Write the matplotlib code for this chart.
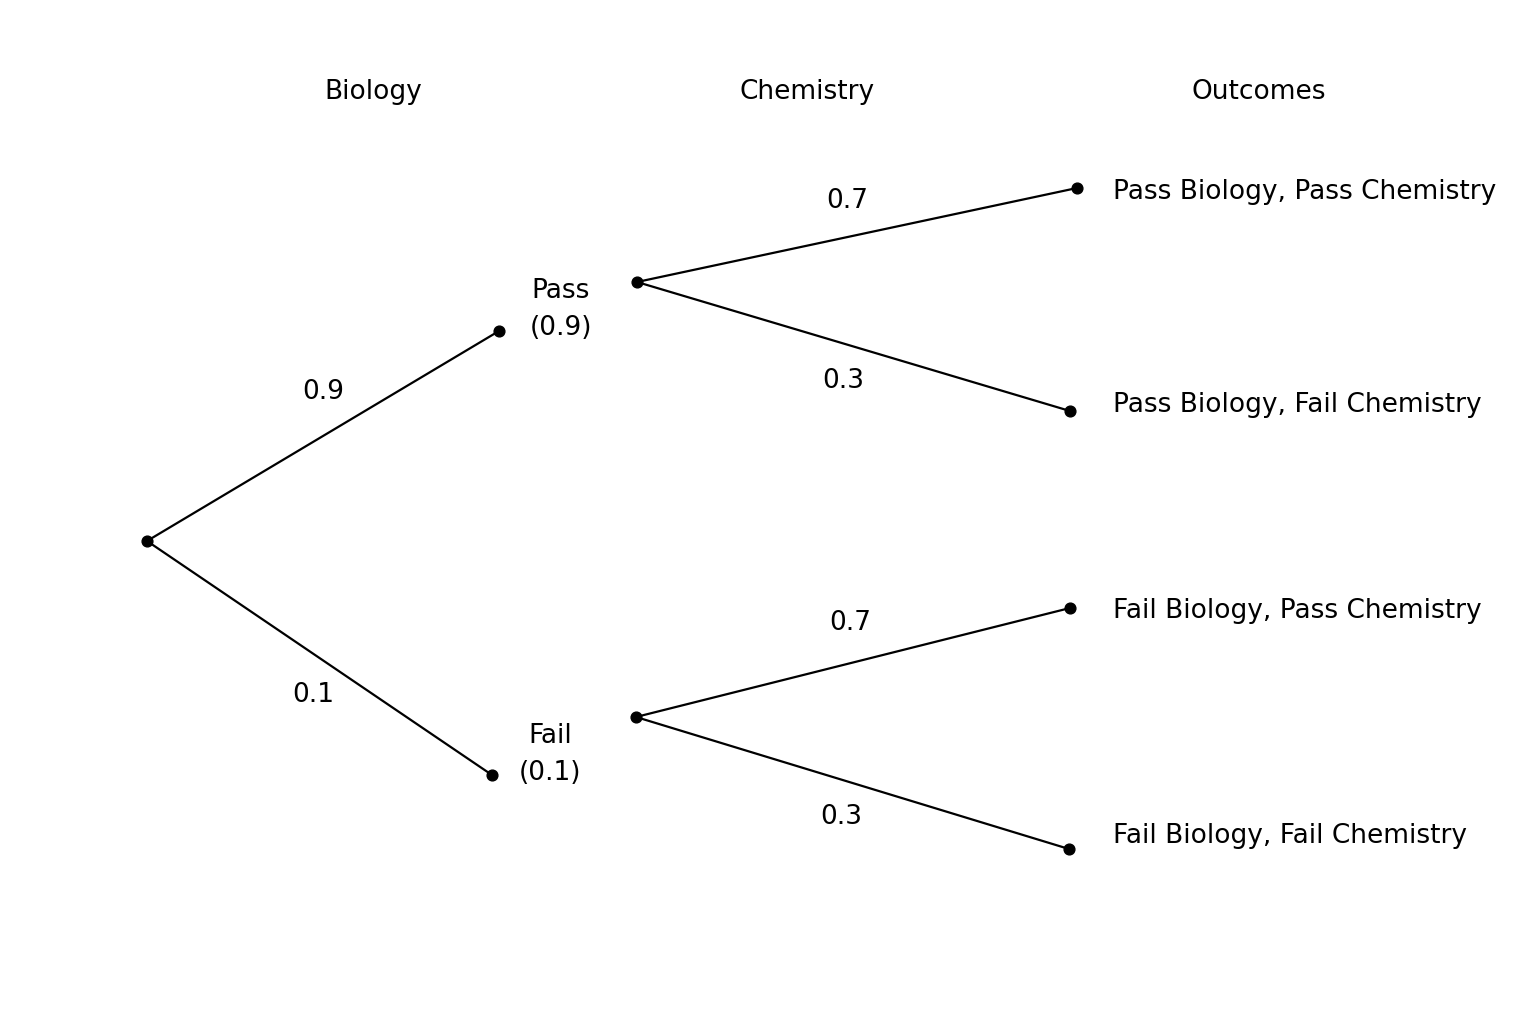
import matplotlib
matplotlib.use("Agg")
import matplotlib.pyplot as plt

stages = ["Biology", "Chemistry", "Outcomes"]
bio_labels = ["Pass", "Fail"]
bio_probs = [0.9, 0.1]
chem_probs = [0.7, 0.3]
outcomes = ["Pass Biology, Pass Chemistry", "Pass Biology, Fail Chemistry",
            "Fail Biology, Pass Chemistry", "Fail Biology, Fail Chemistry"]

# layout (pixel space)
root = (147, 541)
bio_ends = [(499, 331), (492, 775)]
chem_starts = [(637, 282), (636, 717)]
chem_ends = [[(1077, 188), (1070, 411)], [(1070, 608), (1069, 849)]]
stage_x = [373, 807, 1259]
bio_prob_pos = [(323, 392), (313, 695)]
bio_lab_pos = [(561, 291), (550, 736)]
chem_prob_pos = [[(847, 201), (843, 381)], [(850, 623), (841, 817)]]
outcome_y = [192, 405, 611, 836]

fig = plt.figure(figsize=(15.36, 10.24), dpi=100)
ax = fig.add_axes([0, 0, 1, 1])
ax.set_xlim(0, 1536); ax.set_ylim(1024, 0); ax.axis("off")
fs = 19
kw = dict(color="black", lw=1.6, zorder=1)
mk = dict(color="black", s=60, zorder=2)

for x, s in zip(stage_x, stages):
    ax.text(x, 92, s, ha="center", va="center", fontsize=fs)

ax.scatter(*root, **mk)
k = 0
for i in range(2):
    be = bio_ends[i]
    ax.plot([root[0], be[0]], [root[1], be[1]], **kw)
    ax.scatter(*be, **mk)
    ax.text(*bio_prob_pos[i], f"{bio_probs[i]}", ha="center", va="center", fontsize=fs)
    lx, ly = bio_lab_pos[i]
    ax.text(lx, ly, bio_labels[i], ha="center", va="center", fontsize=fs)
    ax.text(lx, ly + 37, f"({bio_probs[i]})", ha="center", va="center", fontsize=fs)
    cs = chem_starts[i]
    ax.scatter(*cs, **mk)
    for j in range(2):
        ce = chem_ends[i][j]
        ax.plot([cs[0], ce[0]], [cs[1], ce[1]], **kw)
        ax.scatter(*ce, **mk)
        ax.text(*chem_prob_pos[i][j], f"{chem_probs[j]}", ha="center", va="center", fontsize=fs)
        ax.text(1113, outcome_y[k], outcomes[k], ha="left", va="center", fontsize=fs)
        k += 1

fig.savefig("out.png", dpi=100, facecolor="white")
